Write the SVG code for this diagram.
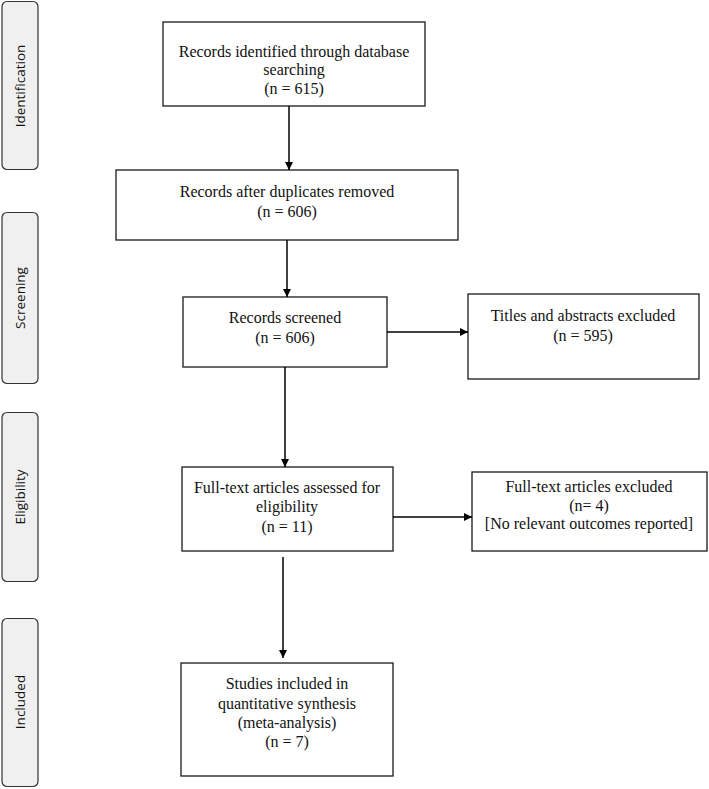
<svg xmlns="http://www.w3.org/2000/svg" width="709" height="789" viewBox="0 0 709 789">
<defs>
<marker id="ah" viewBox="0 0 10 10" refX="10" refY="5" markerWidth="8" markerHeight="8" markerUnits="userSpaceOnUse" orient="auto"><path d="M0,0 L10,5 L0,10 Z" fill="#000"/></marker>
<style>
.box{fill:#fff;stroke:#1a1a1a;stroke-width:1.3}
.side{fill:#f0f0f0;stroke:#333;stroke-width:1.2}
.t{font-family:"Liberation Serif","Times New Roman",serif;font-size:16px;fill:#111;text-anchor:middle}
.s{font-family:"Open Sans","DejaVu Sans",sans-serif;font-size:13.5px;fill:#111;text-anchor:middle}
.c{stroke:#000;stroke-width:1.5;fill:none;marker-end:url(#ah)}
</style>
</defs>
<rect width="709" height="789" fill="#fff"/>
<g id="phase-identification"><rect class="side" x="2" y="1.5" width="36" height="168" rx="5"/><text class="s" transform="translate(25,86) rotate(-90)">Identification</text></g>
<g id="phase-screening"><rect class="side" x="2" y="212.5" width="36" height="171" rx="5"/><text class="s" transform="translate(25,298) rotate(-90)">Screening</text></g>
<g id="phase-eligibility"><rect class="side" x="2" y="412.5" width="36" height="169" rx="5"/><text class="s" transform="translate(25,497) rotate(-90)">Eligibility</text></g>
<g id="phase-included"><rect class="side" x="2" y="618.5" width="36" height="168" rx="5"/><text class="s" transform="translate(25,702) rotate(-90)">Included</text></g>

<g id="n-identified"><rect class="box" x="163" y="22" width="262" height="84"/>
<text class="t" x="294" y="57">Records identified through database</text>
<text class="t" x="294" y="75">searching</text>
<text class="t" x="294" y="94">(n = 615)</text></g>
<g id="n-duplicates"><rect class="box" x="116" y="170" width="342" height="70"/>
<text class="t" x="287" y="197">Records after duplicates removed</text>
<text class="t" x="287" y="217">(n = 606)</text></g>
<g id="n-screened"><rect class="box" x="183" y="297" width="204" height="70"/>
<text class="t" x="285" y="323">Records screened</text>
<text class="t" x="285" y="343">(n = 606)</text></g>
<g id="n-titles-excluded"><rect class="box" x="468" y="294" width="231" height="85"/>
<text class="t" x="583" y="321">Titles and abstracts excluded</text>
<text class="t" x="583" y="341">(n = 595)</text></g>
<g id="n-fulltext"><rect class="box" x="182" y="467" width="211" height="84"/>
<text class="t" x="287" y="493">Full-text articles assessed for</text>
<text class="t" x="287" y="512">eligibility</text>
<text class="t" x="287" y="532">(n = 11)</text></g>
<g id="n-fulltext-excluded"><rect class="box" x="472" y="472" width="235" height="79"/>
<text class="t" x="589" y="492">Full-text articles excluded</text>
<text class="t" x="589" y="511">(n= 4)</text>
<text class="t" x="589" y="529">[No relevant outcomes reported]</text></g>
<g id="n-included"><rect class="box" x="181" y="663" width="212" height="113"/>
<text class="t" x="287" y="689">Studies included in</text>
<text class="t" x="287" y="709">quantitative synthesis</text>
<text class="t" x="287" y="728">(meta-analysis)</text>
<text class="t" x="287" y="747">(n = 7)</text></g>

<g id="connectors">
<path class="c" d="M289,106 V170"/>
<path class="c" d="M287,240 V297"/>
<path class="c" d="M387,332 H468"/>
<path class="c" d="M285,367 V467"/>
<path class="c" d="M393,517 H472"/>
<path class="c" d="M283,557 V658"/>
</g>
</svg>
